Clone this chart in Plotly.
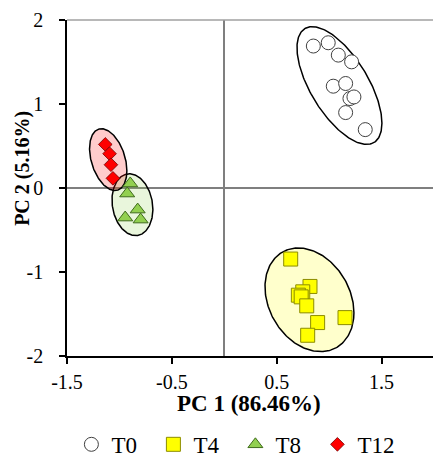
import numpy as np
import plotly.graph_objects as go

# ---- data ----
groups = ["T0", "T4", "T8", "T12"]

t0_x = [0.849, 0.991, 1.087, 1.214, 1.039, 1.157, 1.198, 1.236, 1.157, 1.344]
t0_y = [1.690, 1.729, 1.582, 1.502, 1.212, 1.244, 1.065, 1.084, 0.898, 0.695]

t4_x = [0.633, 0.817, 0.748, 0.706, 0.733, 0.786, 0.890, 0.795, 1.151]
t4_y = [-0.846, -1.172, -1.236, -1.276, -1.296, -1.403, -1.602, -1.753, -1.543]

t8_x = [-0.897, -0.926, -0.945, -0.826, -0.798]
t8_y = [0.054, -0.066, -0.352, -0.257, -0.376]

t12_x = [-1.135, -1.094, -1.081, -1.062]
t12_y = [0.519, 0.408, 0.277, 0.115]

# confidence ellipses: centre, half-extent in x, half-extent in y, correlation
ell_cx = [1.098, 0.812, -0.876, -1.107]
ell_cy = [1.220, -1.331, -0.199, 0.338]
ell_wx = [0.405, 0.424, 0.195, 0.178]
ell_hy = [0.701, 0.617, 0.368, 0.368]
ell_r = [-0.64, -0.25, -0.15, -0.36]

x_ticks = [-1.5, -0.5, 0.5, 1.5]
y_ticks = [-2, -1, 0, 1, 2]

# ---- styles ----
FONT = "Liberation Serif, Times New Roman, serif"
ell_fill = ["rgba(255,255,255,0)", "rgba(255,255,0,0.2)",
            "rgba(146,208,80,0.2)", "rgba(255,0,0,0.2)"]
marker_styles = [
    dict(symbol="circle", size=14, color="white", line=dict(color="#404040", width=1)),
    dict(symbol="square", size=14, color="#FFFF00", line=dict(color="#8c8c00", width=1)),
    dict(symbol="triangle-up", size=13, color="#92D050", line=dict(color="#3f6b1c", width=1)),
    dict(symbol="diamond", size=10.5, color="#FF0000", line=dict(color="#700000", width=0.8)),
]
xs = [t0_x, t4_x, t8_x, t12_x]
ys = [t0_y, t4_y, t8_y, t12_y]

fig = go.Figure()

tt = np.linspace(0, 2 * np.pi, 240)
for i in range(len(groups)):
    r = ell_r[i]
    ex = ell_cx[i] + ell_wx[i] * np.cos(tt)
    ey = ell_cy[i] + ell_hy[i] * (r * np.cos(tt) + np.sqrt(1 - r * r) * np.sin(tt))
    fig.add_trace(go.Scatter(
        x=ex, y=ey, mode="lines", fill="toself", fillcolor=ell_fill[i],
        line=dict(color="black", width=1.5), showlegend=False, hoverinfo="skip"))

for i, g in enumerate(groups):
    fig.add_trace(go.Scatter(
        x=xs[i], y=ys[i], mode="markers", name=g, marker=marker_styles[i]))

fig.add_shape(type="line", xref="paper", yref="paper", x0=0, x1=1, y0=1, y1=1,
              line=dict(color="#a0a0a0", width=1.5))

fig.add_annotation(text="<b>PC 2 (5.16%)</b>", xref="paper", yref="paper",
                   x=-0.122, y=0.558, xanchor="center", yanchor="middle",
                   textangle=-90, showarrow=False,
                   font=dict(family=FONT, size=20, color="black"))
fig.add_annotation(text="<b>PC 1 (86.46%)</b>", xref="paper", yref="paper",
                   x=0.497, y=-0.1405, xanchor="center", yanchor="middle",
                   showarrow=False, font=dict(family=FONT, size=23, color="black"))

fig.update_layout(
    width=433, height=457,
    margin=dict(l=67, r=0, t=20, b=101, autoexpand=False),
    paper_bgcolor="white", plot_bgcolor="white",
    font=dict(family=FONT, size=20, color="black"),
    showlegend=True,
    legend=dict(orientation="h", x=0.012, y=-0.263, xanchor="left", yanchor="middle",
                entrywidth=37, entrywidthmode="pixels", itemwidth=30,
                font=dict(family=FONT, size=23, color="black"),
                bgcolor="rgba(0,0,0,0)", traceorder="normal"),
)
fig.update_xaxes(
    range=[-1.5, 1.99], tickvals=x_ticks, ticktext=[f"{v:g}" for v in x_ticks],
    showgrid=False, zeroline=True, zerolinecolor="#7f7f7f", zerolinewidth=1.5,
    showline=True, linecolor="black", linewidth=1.5,
    ticks="outside", ticklen=6, tickcolor="black", tickwidth=1.5,
    ticklabelstandoff=1,
)
fig.update_yaxes(
    range=[-2, 2], tickvals=y_ticks, ticktext=[str(v) for v in y_ticks],
    showgrid=False, zeroline=True, zerolinecolor="#7f7f7f", zerolinewidth=1.5,
    showline=True, linecolor="black", linewidth=1.5,
    ticks="outside", ticklen=6, tickcolor="black", tickwidth=1.5,
    ticklabelstandoff=12,
)

fig.write_html("out.html", config={"displayModeBar": False},
               post_script="document.body.style.margin='0';document.body.style.padding='0';")
